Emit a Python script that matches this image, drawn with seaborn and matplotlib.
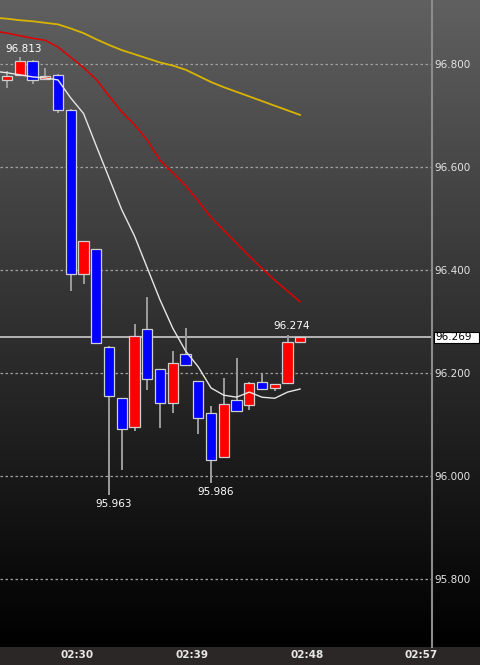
import matplotlib.pyplot as plt
import matplotlib.transforms as mtransforms
import numpy as np
import pandas as pd
import seaborn as sns
from matplotlib.colors import LinearSegmentedColormap
from matplotlib.patches import Rectangle

# 1-minute candles (red = up, blue = down)
opens = [96.768, 96.779, 96.806, 96.770, 96.779, 96.711, 96.392, 96.441,
         96.250, 96.151, 96.096, 96.285, 96.208, 96.141, 96.237, 96.184,
         96.122, 96.037, 96.148, 96.138, 96.183, 96.171, 96.181, 96.260]
highs = [96.787, 96.813, 96.808, 96.792, 96.781, 96.713, 96.456, 96.441,
         96.252, 96.151, 96.295, 96.348, 96.208, 96.243, 96.287, 96.184,
         96.136, 96.190, 96.229, 96.183, 96.200, 96.179, 96.274, 96.269]
lows = [96.753, 96.777, 96.761, 96.769, 96.704, 96.359, 96.372, 96.258,
        95.963, 96.012, 96.087, 96.167, 96.093, 96.123, 96.216, 96.081,
        95.986, 96.037, 96.126, 96.128, 96.169, 96.165, 96.181, 96.260]
closes = [96.777, 96.806, 96.769, 96.776, 96.711, 96.392, 96.456, 96.258,
          96.156, 96.091, 96.272, 96.188, 96.141, 96.220, 96.216, 96.113,
          96.031, 96.140, 96.126, 96.181, 96.169, 96.179, 96.260, 96.269]

# moving averages, starting one bar before the first candle
ma_index = list(range(-1, 24))
ma_fast = [96.786, 96.783, 96.779, 96.775, 96.773, 96.769, 96.734, 96.704,
           96.641, 96.579, 96.517, 96.466, 96.404, 96.342, 96.287, 96.243,
           96.212, 96.171, 96.157, 96.153, 96.163, 96.153, 96.151, 96.163,
           96.169]
ma_mid = [96.864, 96.860, 96.855, 96.850, 96.846, 96.833, 96.813, 96.793,
          96.770, 96.738, 96.707, 96.682, 96.652, 96.613, 96.589, 96.564,
          96.534, 96.502, 96.477, 96.452, 96.427, 96.403, 96.380, 96.359,
          96.338]
ma_slow = [96.890, 96.888, 96.885, 96.883, 96.880, 96.877, 96.869, 96.860,
           96.848, 96.837, 96.827, 96.819, 96.811, 96.803, 96.797, 96.789,
           96.777, 96.765, 96.755, 96.746, 96.737, 96.728, 96.719, 96.710,
           96.701]

price_levels = [95.8, 96.0, 96.2, 96.4, 96.6, 96.8]
time_ticks = [5.5, 14.5, 23.5, 32.5]
time_labels = ['02:30', '02:39', '02:48', '02:57']
last_price = 96.269
high_marks = [1, 22]
low_marks = [8, 16]

sns.set_style('dark')
plt.rcParams['font.family'] = ['DejaVu Sans']

fig = plt.figure(figsize=(4.8, 6.65), dpi=100, facecolor='#2b2727')

# gradient background (grey at top to black at bottom)
bottom = 18 / 665
bg = fig.add_axes([0, bottom, 1, 1 - bottom])
grad = np.linspace(1, 0, 256).reshape(-1, 1)
cmap = LinearSegmentedColormap.from_list('bg', ['#000000', '#606060'])
bg.imshow(grad, aspect='auto', cmap=cmap, extent=[0, 1, 0, 1])
bg.axis('off')

ax = fig.add_axes([0, bottom, 432 / 480, 1 - bottom])
ax.patch.set_alpha(0)

idx = np.arange(len(opens))
o = np.array(opens)
c = np.array(closes)

# grid + current price line
for lvl in price_levels:
    ax.axhline(lvl, color='#a0a0a0', lw=0.9, ls=(0, (2, 2)), zorder=1)
ax.axhline(last_price, color='#b4b4b4', lw=1.4, zorder=1.5)

# candles
ax.vlines(idx, lows, highs, color='#9c9c9c', lw=1.4, zorder=2)
colors = np.where(c >= o, '#ff0000', '#0000ff')
ax.bar(idx, np.abs(c - o), bottom=np.minimum(o, c), width=0.8,
       color=colors, edgecolor='#cfcfcf', linewidth=0.9, zorder=3)

# moving averages
df = pd.DataFrame({'idx': ma_index, 'fast': ma_fast, 'mid': ma_mid, 'slow': ma_slow})
sns.lineplot(data=df, x='idx', y='slow', color='#d8b400', lw=1.3, ax=ax, zorder=4)
sns.lineplot(data=df, x='idx', y='mid', color='#e00000', lw=1.1, ax=ax, zorder=4)
sns.lineplot(data=df, x='idx', y='fast', color='#e6e6e6', lw=1.0, ax=ax, zorder=4)

# high / low labels
for k in high_marks:
    ax.annotate(f'{highs[k]:.3f}', (k, highs[k]), xytext=(3, 2.5), textcoords='offset points',
                ha='center', va='bottom', color='white', fontsize=7.5)
for k in low_marks:
    ax.annotate(f'{lows[k]:.3f}', (k, lows[k]), xytext=(3, -3), textcoords='offset points',
                ha='center', va='top', color='white', fontsize=7.5)

ax.set_xlim(-0.55, 33.33)
ax.set_ylim(95.668, 96.9243)
ax.set_xlabel('')
ax.set_ylabel('')

ax.yaxis.tick_right()
ax.set_yticks(price_levels, [f'{v:.3f}' for v in price_levels])
ax.tick_params(axis='y', length=0, pad=2, labelcolor='#e4e4e4', labelsize=7.5)
ax.set_xticks(time_ticks, time_labels)
ax.tick_params(axis='x', length=0, pad=2, labelcolor='#e8e8e8', labelsize=7.5)
for lab in ax.get_xticklabels():
    lab.set_fontweight('bold')
ax.grid(False)

for side in ['top', 'left', 'bottom']:
    ax.spines[side].set_visible(False)
ax.spines['right'].set_visible(True)
ax.spines['right'].set_color('#8c8c8c')
ax.spines['right'].set_linewidth(1.5)

# current price box on the axis
trans = mtransforms.blended_transform_factory(ax.transAxes, ax.transData)
box_h = 11 / 515 * 0.1 / 0.1
ax.add_patch(Rectangle((1 + 1.5 / 432, last_price - 0.0105), 45 / 432, 0.021,
                       transform=trans, facecolor='white', edgecolor='black',
                       lw=0.8, clip_on=False, zorder=5))
ax.text(1 + 3 / 432, last_price, f'{last_price:.3f}', transform=trans, ha='left',
        va='center', color='black', fontsize=7.5, zorder=6, clip_on=False)

fig.savefig('out.png', dpi=100, facecolor=fig.get_facecolor())
